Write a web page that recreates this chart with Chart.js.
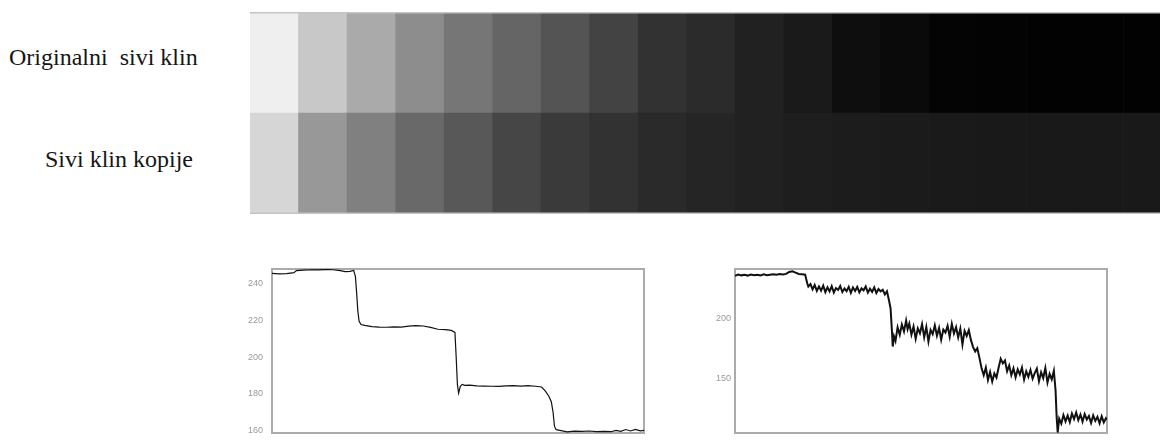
<!DOCTYPE html>
<html><head><meta charset="utf-8">
<script src="https://cdn.jsdelivr.net/npm/chart.js@4"></script>
<style>
html,body{margin:0;padding:0;width:1160px;height:441px;overflow:hidden;background:#fff;}
.lbl{position:absolute;font-family:"Liberation Serif","Times New Roman",serif;font-size:24px;color:#151515;white-space:pre;line-height:normal;}
#wedgeBox{position:absolute;left:250px;top:12px;width:910px;height:202px;overflow:hidden;}
#wedge{position:absolute;left:0;top:0;}
#c1{position:absolute;left:242px;top:263px;}
#c2{position:absolute;left:705px;top:263px;}
</style></head>
<body>
<div class="lbl" id="l1" style="left:9px;top:44px;">Originalni  sivi klin</div>
<div class="lbl" id="l2" style="left:45px;top:146px;">Sivi klin kopije</div>
<div id="wedgeBox"><canvas id="wedge" width="922" height="202"></canvas></div>
<canvas id="c1" width="408" height="194"></canvas>
<canvas id="c2" width="408" height="194"></canvas>
<script>
// ---- data ----
const wedgeSteps = ["1","2","3","4","5","6","7","8","9","10","11","12","13","14","15","16","17","18","19"];
const originalGray = [239,200,170,141,118,101,84,67,50,43,33,26,14,10,4,3,2,2,2];
const copyGray     = [214,152,128,105,88,70,58,50,42,37,33,30,28,27,26,25,25,25,25];

const p1X = [0,0.3,0.6,0.9,1.0,1.3,1.6,1.9,2.2,2.5,2.8,3.0,3.2,3.35,3.42,3.47,3.52,3.57,3.65,3.8,4.1,4.4,4.7,5.0,5.3,5.6,5.9,6.2,6.5,6.8,7.1,7.35,7.5,7.55,7.6,7.65,7.72,7.8,7.9,8.1,8.4,8.7,9.0,9.3,9.6,9.9,10.2,10.5,10.8,11.05,11.2,11.35,11.45,11.52,11.58,11.65,11.8,12.1,12.4,12.7,13.0,13.3,13.6,13.9,14.1,14.3,14.5,14.7,14.9,15.1,15.25];
const p1Y = [245.8,245.5,245.7,246.2,247.3,247.6,247.8,247.7,247.9,247.8,247.3,246.8,246.9,247.4,244,235,225,219.5,217.8,217.3,216.6,216.4,216.3,216.5,216.4,216.9,217.2,217.0,216.2,215.2,215.0,214.6,213.5,200,185,180.2,184,185.0,184.5,184.6,184.2,184.1,184.0,183.9,184.2,184.3,184.1,184.3,184.0,183.6,181.5,178.5,175.5,170,162,160.2,159.8,159.0,159.4,159.3,159.5,159.2,159.3,159.1,159.8,159.3,160.3,159.5,160.4,159.6,159.8];

const p2X = [0,0.15,0.3,0.45,0.6,0.75,0.9,1.05,1.2,1.35,1.5,1.65,1.8,1.95,2.1,2.25,2.4,2.55,2.7,2.85,3.0,3.15,3.3,3.4,3.45,
 3.55,3.65,3.75,3.85,3.95,4.05,4.15,4.25,4.35,4.45,4.55,4.65,4.75,4.85,4.95,5.05,5.15,5.25,5.35,5.45,5.55,5.65,5.75,5.85,5.95,6.05,6.15,6.25,6.35,6.45,6.55,6.65,6.75,6.85,6.95,7.05,7.15,
 7.25,7.32,7.38,7.42,7.48,
 7.55,7.65,7.75,7.85,7.95,8.05,8.12,8.2,8.3,8.4,8.5,8.6,8.7,8.8,8.9,9.0,9.1,9.2,9.3,9.4,9.5,9.6,9.7,9.8,9.9,10.0,10.1,10.2,10.3,10.4,10.5,10.6,10.7,10.8,10.9,11.0,11.1,
 11.2,11.3,11.4,11.5,11.6,11.7,11.8,11.9,12.0,12.1,12.2,12.3,12.4,12.5,12.6,12.7,12.8,12.9,13.0,13.1,13.2,13.3,13.4,13.5,13.6,13.7,13.8,13.9,14.0,14.1,14.2,14.3,14.4,14.5,14.6,14.7,14.8,14.9,15.0,
 15.08,15.13,15.18,
 15.25,15.35,15.45,15.55,15.65,15.75,15.85,15.95,16.05,16.15,16.25,16.35,16.45,16.55,16.65,16.75,16.85,16.95,17.05,17.15,17.25,17.35,17.45,17.5];
const p2Y = [235.5,236.4,235.8,236.2,235.6,236.5,235.9,236.3,235.7,236.6,236.0,236.4,236.8,236.3,236.9,236.5,237.0,238.6,239.2,238.1,237.0,236.7,236.4,229,226.5,
 228.5,224.2,227.8,222.9,226.6,223.1,227.2,221.8,225.9,222.4,226.8,221.5,225.2,223.6,227.0,221.9,224.8,222.6,226.3,221.2,225.7,222.8,226.1,221.6,224.9,223.3,226.5,221.4,224.7,222.0,225.8,221.1,224.4,222.5,223.8,219.9,222.6,
 214.5,208,190,176.5,185,
 181.2,192.5,186.3,194.8,189.1,198.2,191.0,195.6,186.4,193.2,182.9,191.7,187.5,195.1,184.2,192.8,180.6,190.3,186.8,194.2,185.5,191.9,182.1,190.6,188.2,193.7,184.6,195.4,187.3,192.6,184.0,191.4,178.2,189.5,185.3,190.1,181.8,
 176.0,172.4,175.1,167.0,158.3,152.5,158.9,148.6,155.2,147.3,154.0,150.6,158.8,166.2,162.4,164.8,155.9,160.7,152.6,158.3,150.8,157.5,153.1,159.0,148.9,155.8,151.2,156.9,149.7,154.3,158.1,147.5,155.0,150.2,158.6,146.4,153.7,149.1,156.3,
 140,118,104.8,
 116.3,112.2,119.4,114.1,118.9,113.5,120.6,116.0,121.5,115.2,119.8,113.9,120.2,115.7,118.6,112.8,119.1,114.5,117.9,112.4,118.3,113.2,116.8,115.5];

const c1XTicks = [0,5,10,15];
const c1YTicks = [160,180,200,220,240];
const c2XTicks = [0,5,10,15];
const c2YTicks = [150,200];

// ---- wedge ----
const gray = g => `rgb(${g},${g},${g})`;
new Chart(document.getElementById('wedge'), {
  type: 'bar',
  data: {
    labels: wedgeSteps,
    datasets: [
      {label:'Sivi klin kopije', data: wedgeSteps.map(()=>1), backgroundColor: copyGray.map(gray), borderWidth:0, barPercentage:1, categoryPercentage:1},
      {label:'Originalni sivi klin', data: wedgeSteps.map(()=>1), backgroundColor: originalGray.map(gray), borderWidth:0, barPercentage:1, categoryPercentage:1}
    ]
  },
  options: {
    responsive:false, animation:false,
    layout:{padding:0},
    plugins:{legend:{display:false}, tooltip:{enabled:false}},
    scales:{
      x:{display:false, stacked:true},
      y:{display:false, stacked:true, min:0, max:2}
    }
  },
  plugins:[{id:'edge', afterDraw(chart){
    const {ctx, chartArea:a} = chart; ctx.save();
    ctx.strokeStyle='#c4c4c4'; ctx.lineWidth=1.5;
    ctx.beginPath(); ctx.moveTo(a.left,a.top+0.75); ctx.lineTo(a.right,a.top+0.75);
    ctx.moveTo(a.left,a.bottom-0.75); ctx.lineTo(a.right,a.bottom-0.75); ctx.stroke();
    ctx.restore();
  }}]
});

// ---- profiles ----
const framePlugin = {id:'frame', beforeDatasetsDraw(chart){
  const {ctx, chartArea:a} = chart; ctx.save();
  ctx.strokeStyle='#ababab'; ctx.lineWidth=2;
  ctx.strokeRect(a.left, a.top, a.right-a.left, a.bottom-a.top);
  ctx.restore();
}};
const tickFont = {family:'"Liberation Sans", Arial, sans-serif', size:9};
function profile(id, xs, ys, xMin, xMax, yMin, yMax, xT, yT, lw, ypad){
  new Chart(document.getElementById(id), {
    type:'line',
    data:{datasets:[{data: xs.map((x,i)=>({x, y: ys[i]})), borderColor:'#111', borderWidth:lw, pointRadius:0, tension:0, fill:false}]},
    options:{
      responsive:false, animation:false,
      layout:{padding:{top:6,right:6,left:0,bottom:0}},
      plugins:{legend:{display:false}, tooltip:{enabled:false}},
      scales:{
        x:{type:'linear', min:xMin, max:xMax, grid:{display:false, drawTicks:false}, border:{display:false},
           afterBuildTicks:s=>{s.ticks = xT.map(v=>({value:v}));},
           afterFit:s=>{s.height=24; s.paddingLeft=0; s.paddingRight=0;},
           ticks:{font:tickFont, color:'#999', padding:6, maxRotation:0, autoSkip:false}},
        y:{type:'linear', min:yMin, max:yMax, grid:{display:false, drawTicks:false}, border:{display:false},
           afterBuildTicks:s=>{s.ticks = yT.map(v=>({value:v}));},
           afterFit:s=>{s.width=30; s.paddingTop=0; s.paddingBottom=0;},
           ticks:{font:tickFont, color:'#999', padding:ypad, autoSkip:false}}
      }
    },
    plugins:[framePlugin]
  });
}
profile('c1', p1X, p1Y, 0, 15.25, 158.4, 248.2, c1XTicks, c1YTicks, 1.2, 9);
profile('c2', p2X, p2Y, 0, 17.5, 104.4, 241.1, c2XTicks, c2YTicks, 2, 4);
</script>
</body></html>
